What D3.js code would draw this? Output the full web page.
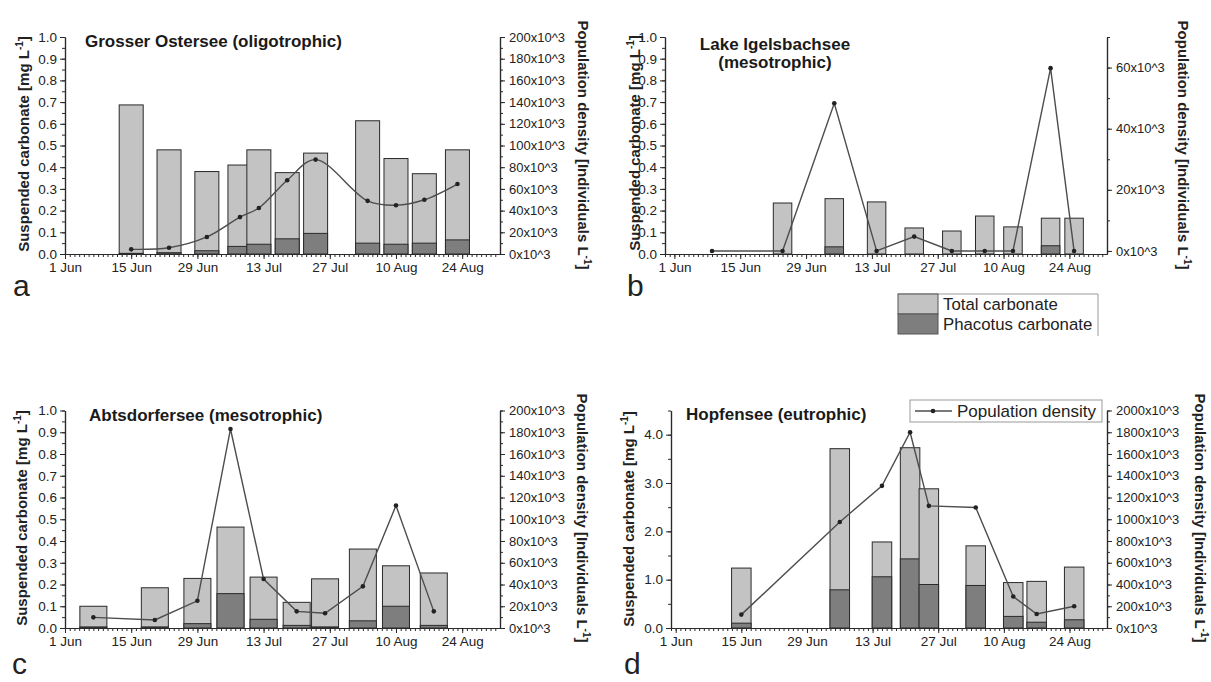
<!DOCTYPE html>
<html>
<head>
<meta charset="utf-8">
<script src="https://cdn.jsdelivr.net/npm/d3@7"></script>
<style>
body { margin: 0; background: #fff; }
svg text { font-family: Arial, "Liberation Sans", sans-serif; }
</style>
</head>
<body>
<svg id="chart" width="1211" height="682"></svg>
<script>
// sampling dates (month-day), carbonate in mg/L, population in individuals/L
const aDates = ['06-15', '06-23', '07-01', '07-08', '07-12', '07-18', '07-24', '08-04', '08-10', '08-16', '08-23'];
const aTotal = [0.687, 0.48, 0.38, 0.41, 0.48, 0.375, 0.465, 0.614, 0.44, 0.37, 0.48];
const aPhacotus = [0.003, 0.006, 0.015, 0.035, 0.045, 0.07, 0.095, 0.05, 0.045, 0.05, 0.065];
const aPop = [4300, 5800, 15700, 34000, 42400, 68000, 87000, 49000, 45000, 50000, 64500];

const bDates = ['06-24', '07-05', '07-14', '07-22', '07-30', '08-06', '08-12', '08-20', '08-25'];
const bTotal = [0.235, 0.255, 0.24, 0.12, 0.106, 0.175, 0.125, 0.165, 0.165];
const bPhacotus = [0, 0.033, 0, 0, 0, 0, 0, 0.038, 0];
const bPopDates = ['06-09', '06-24', '07-05', '07-14', '07-22', '07-30', '08-06', '08-12', '08-20', '08-25'];
const bPop = [0, 0, 48300, 0, 4700, 0, 0, 0, 59800, 0];

const cDates = ['06-07', '06-20', '06-29', '07-06', '07-13', '07-20', '07-26', '08-03', '08-10', '08-18'];
const cTotal = [0.10, 0.185, 0.228, 0.464, 0.234, 0.118, 0.226, 0.363, 0.286, 0.253];
const cPhacotus = [0.005, 0.005, 0.02, 0.158, 0.04, 0.012, 0.005, 0.033, 0.10, 0.012];
const cPop = [9800, 7400, 25000, 183000, 45000, 15300, 13500, 38300, 112600, 15300];

const dDates = ['06-15', '07-06', '07-15', '07-21', '07-25', '08-04', '08-12', '08-17', '08-25'];
const dTotal = [1.24, 3.71, 1.78, 3.73, 2.88, 1.70, 0.94, 0.965, 1.26];
const dPhacotus = [0.10, 0.79, 1.06, 1.43, 0.90, 0.88, 0.24, 0.12, 0.17];
const dPop = [123000, 975000, 1307000, 1800000, 1123000, 1108000, 289000, 129000, 200000];

const xTickDates = ['06-01', '06-15', '06-29', '07-13', '07-27', '08-10', '08-24'];

const LIGHT = '#c3c3c3';
const DARK = '#7e7e7e';
const INK = '#2a2a2a';
const LINE = '#4d4d4d';

const parse = s => d3.timeParse('%Y-%m-%d')('2010-' + s);
const fmtK = d => d3.format('d')(d / 1000) + 'x10^3';

const svg = d3.select('#chart');

function styleAxis(sel, size) {
    sel.select('.domain').attr('stroke', INK).attr('stroke-width', 1.2);
    sel.selectAll('.tick line').attr('stroke', INK).attr('stroke-width', 1);
    sel.selectAll('.tick text').attr('fill', '#222').attr('font-size', size);
}

function drawPanel(p) {
    const g = svg.append('g');
    const x = d3.scaleTime().domain([parse(p.xStart), parse(p.xEnd)]).range([p.x0, p.x1]);
    const y = d3.scaleLinear().domain(p.yDomain).range([p.yBot, p.yTop]);
    const y2 = d3.scaleLinear().domain(p.y2Domain).range([p.yBot, p.yTop]);

    // bars: total carbonate, phacotus part drawn over it from the base
    p.dates.map(parse).forEach(function (dt, i) {
        const cx = x(dt);
        g.append('rect')
            .attr('x', cx - p.barW / 2).attr('y', y(p.total[i]))
            .attr('width', p.barW).attr('height', y(0) - y(p.total[i]))
            .attr('fill', LIGHT).attr('stroke', INK).attr('stroke-width', 1);
        if (p.phacotus[i] > 0) {
            g.append('rect')
                .attr('x', cx - p.barW / 2).attr('y', y(p.phacotus[i]))
                .attr('width', p.barW).attr('height', y(0) - y(p.phacotus[i]))
                .attr('fill', DARK).attr('stroke', INK).attr('stroke-width', 1);
        }
    });

    // population density line
    const pts = p.popDates.map(function (s, i) {
        return [x(parse(s)), y2(p.pop[i])];
    });
    const line = d3.line().curve(p.smooth ? d3.curveCatmullRom : d3.curveLinear);
    g.append('path').attr('d', line(pts))
        .attr('fill', 'none').attr('stroke', LINE).attr('stroke-width', 1.4);
    g.selectAll('.mk').data(pts).enter().append('circle')
        .attr('cx', d => d[0]).attr('cy', d => d[1]).attr('r', 2.3)
        .attr('fill', '#222');

    // x axis, daily minor ticks
    const xMinor = g.append('g').attr('transform', 'translate(0,' + p.yBot + ')')
        .call(d3.axisBottom(x).tickValues(d3.timeDay.range(x.domain()[0], x.domain()[1]))
            .tickFormat('').tickSize(3).tickSizeOuter(0));
    styleAxis(xMinor, 13.5);
    xMinor.select('.domain').remove();
    const xAxis = g.append('g').attr('transform', 'translate(0,' + p.yBot + ')')
        .call(d3.axisBottom(x).tickValues(xTickDates.map(parse))
            .tickFormat(d3.timeFormat('%-d %b')).tickSize(5).tickPadding(3).tickSizeOuter(0));
    styleAxis(xAxis, 13.5);

    // left axis
    const yMinor = g.append('g').attr('transform', 'translate(' + p.x0 + ',0)')
        .call(d3.axisLeft(y).tickValues(p.yMinor).tickFormat('').tickSize(3).tickSizeOuter(0));
    styleAxis(yMinor, 13.5);
    const yAxis = g.append('g').attr('transform', 'translate(' + p.x0 + ',0)')
        .call(d3.axisLeft(y).tickValues(p.yMajor).tickFormat(d3.format('.1f'))
            .tickSize(5).tickPadding(3).tickSizeOuter(0));
    styleAxis(yAxis, 13.5);

    // right axis
    const y2Minor = g.append('g').attr('transform', 'translate(' + p.x1 + ',0)')
        .call(d3.axisRight(y2).tickValues(p.y2Minor).tickFormat('').tickSize(3).tickSizeOuter(0));
    styleAxis(y2Minor, 13);
    const y2Axis = g.append('g').attr('transform', 'translate(' + p.x1 + ',0)')
        .call(d3.axisRight(y2).tickValues(p.y2Major).tickFormat(fmtK)
            .tickSize(5).tickPadding(4).tickSizeOuter(0));
    styleAxis(y2Axis, 13);

    // axis titles
    const lt = g.append('text')
        .attr('transform', 'translate(' + p.leftTitle[0] + ',' + p.leftTitle[1] + ') rotate(-90)')
        .attr('text-anchor', 'middle').attr('font-size', 15).attr('font-weight', 'bold').attr('fill', '#222');
    lt.append('tspan').text('Suspended carbonate [mg L');
    lt.append('tspan').attr('dy', -6).attr('font-size', 10).text('-1');
    lt.append('tspan').attr('dy', 6).text(']');

    const rt = g.append('text')
        .attr('transform', 'translate(' + p.rightTitle[0] + ',' + p.rightTitle[1] + ') rotate(90)')
        .attr('text-anchor', 'middle').attr('font-size', 15).attr('font-weight', 'bold').attr('fill', '#222');
    rt.append('tspan').text('Population density [Individuals L');
    rt.append('tspan').attr('dy', -6).attr('font-size', 10).text('-1');
    rt.append('tspan').attr('dy', 6).text(']');

    // panel title
    const tt = g.append('text').attr('x', p.title.x).attr('y', p.title.y)
        .attr('text-anchor', p.title.anchor).attr('font-size', 17)
        .attr('font-weight', 'bold').attr('fill', '#1a1a1a');
    p.title.lines.forEach(function (l, i) {
        tt.append('tspan').attr('x', p.title.x).attr('dy', i === 0 ? 0 : 18).text(l);
    });

    // panel letter
    g.append('text').attr('x', p.letter[0]).attr('y', p.letter[1])
        .attr('font-size', 30).attr('fill', '#222').text(p.letter[2]);
}

const minor01 = d3.range(0, 1.0001, 0.05);
const major01 = d3.range(0, 1.0001, 0.1);

drawPanel({
    dates: aDates, total: aTotal, phacotus: aPhacotus, popDates: aDates, pop: aPop, smooth: true,
    xStart: '06-01', xEnd: '09-01', x0: 65, x1: 500, yTop: 37, yBot: 254, barW: 24,
    yDomain: [0, 1], yMajor: major01, yMinor: minor01,
    y2Domain: [0, 200000], y2Major: d3.range(0, 200001, 20000), y2Minor: d3.range(0, 200001, 10000),
    leftTitle: [29, 144], rightTitle: [578, 145],
    title: { x: 85, y: 47, anchor: 'start', lines: ['Grosser Ostersee (oligotrophic)'] },
    letter: [13, 296, 'a']
});

drawPanel({
    dates: bDates, total: bTotal, phacotus: bPhacotus, popDates: bPopDates, pop: bPop, smooth: false,
    xStart: '05-30', xEnd: '09-01', x0: 665, x1: 1107, yTop: 37, yBot: 254, barW: 18.5,
    yDomain: [0, 1], yMajor: major01, yMinor: minor01,
    y2Domain: [-1000, 70000], y2Major: d3.range(0, 60001, 20000), y2Minor: d3.range(0, 70001, 10000),
    leftTitle: [640, 143], rightTitle: [1178, 145],
    title: { x: 775, y: 50, anchor: 'middle', lines: ['Lake Igelsbachsee', '(mesotrophic)'] },
    letter: [627, 296, 'b']
});

drawPanel({
    dates: cDates, total: cTotal, phacotus: cPhacotus, popDates: cDates, pop: cPop, smooth: false,
    xStart: '06-01', xEnd: '09-01', x0: 65, x1: 500, yTop: 410.5, yBot: 628, barW: 27,
    yDomain: [0, 1], yMajor: major01, yMinor: minor01,
    y2Domain: [0, 200000], y2Major: d3.range(0, 200001, 20000), y2Minor: d3.range(0, 200001, 10000),
    leftTitle: [27, 518], rightTitle: [577, 518],
    title: { x: 89, y: 421, anchor: 'start', lines: ['Abtsdorfersee (mesotrophic)'] },
    letter: [12, 674, 'c']
});

drawPanel({
    dates: dDates, total: dTotal, phacotus: dPhacotus, popDates: dDates, pop: dPop, smooth: false,
    xStart: '05-31', xEnd: '09-01', x0: 671, x1: 1107, yTop: 410.5, yBot: 628, barW: 19.5,
    yDomain: [0, 4.5], yMajor: d3.range(0, 4.01, 1), yMinor: d3.range(0, 4.51, 0.5),
    y2Domain: [0, 2000000], y2Major: d3.range(0, 2000001, 200000), y2Minor: d3.range(0, 2000001, 100000),
    leftTitle: [634, 519], rightTitle: [1195, 518],
    title: { x: 686, y: 420, anchor: 'start', lines: ['Hopfensee (eutrophic)'] },
    letter: [624, 674, 'd']
});

// legend for the bars (between b and d)
const lg = svg.append('g');
lg.append('path').attr('d', 'M898,294H1098V336')
    .attr('fill', 'none').attr('stroke', '#999').attr('stroke-width', 1);
[['Total carbonate', LIGHT], ['Phacotus carbonate', DARK]].forEach(function (item, i) {
    lg.append('rect').attr('x', 898).attr('y', 294 + i * 20).attr('width', 40).attr('height', 20)
        .attr('fill', item[1]).attr('stroke', '#555').attr('stroke-width', 1);
    lg.append('text').attr('x', 943).attr('y', 310 + i * 20).attr('font-size', 16.8)
        .attr('fill', '#222').text(item[0]);
});

// legend for the population line (panel d)
const lg2 = svg.append('g');
lg2.append('rect').attr('x', 910).attr('y', 400).attr('width', 192).attr('height', 22)
    .attr('fill', '#fff').attr('stroke', '#999').attr('stroke-width', 1);
lg2.append('line').attr('x1', 915).attr('x2', 952).attr('y1', 411).attr('y2', 411)
    .attr('stroke', LINE).attr('stroke-width', 1.4);
lg2.append('circle').attr('cx', 933).attr('cy', 411).attr('r', 2.3).attr('fill', '#222');
lg2.append('text').attr('x', 957).attr('y', 417).attr('font-size', 17)
    .attr('fill', '#222').text('Population density');
</script>
</body>
</html>
